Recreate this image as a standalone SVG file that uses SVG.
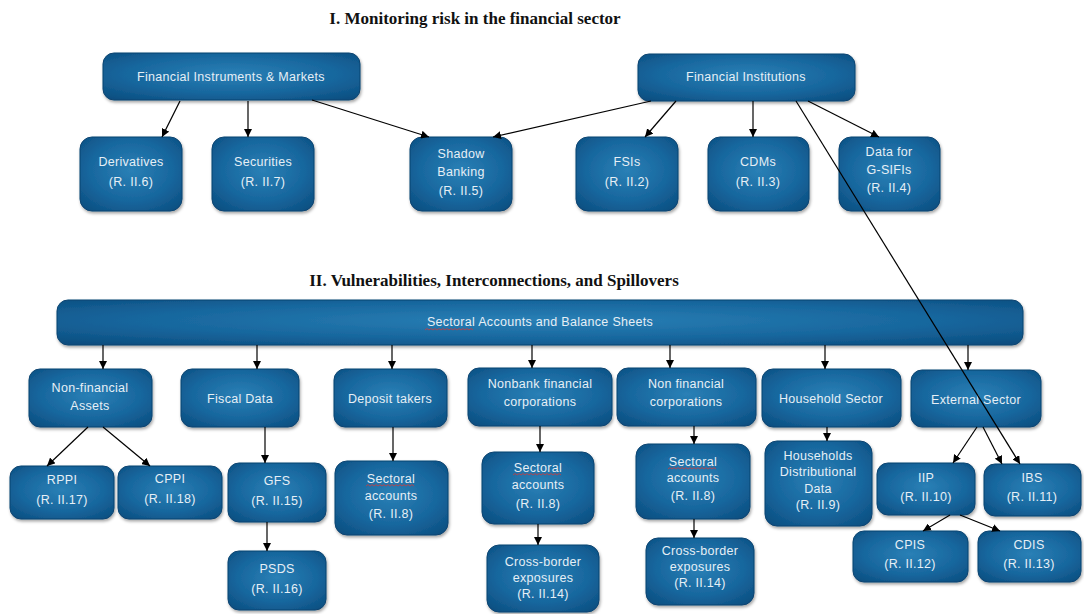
<svg xmlns="http://www.w3.org/2000/svg" width="1084" height="614" viewBox="0 0 1084 614">
  <defs>
    <radialGradient id="boxFill" cx="50%" cy="45%" r="70%">
      <stop offset="0" stop-color="#2a80b6"/>
      <stop offset="0.6" stop-color="#17669d"/>
      <stop offset="1" stop-color="#0c4e80"/>
    </radialGradient>
    <filter id="shadow" x="-10%" y="-10%" width="125%" height="130%">
      <feDropShadow dx="1" dy="2" stdDeviation="1.5" flood-color="#000" flood-opacity="0.35"/>
    </filter>
    <marker id="arrow" markerUnits="userSpaceOnUse" markerWidth="9" markerHeight="8" refX="8" refY="4" orient="auto">
      <path d="M0,0 L8,4 L0,8 z" fill="#000"/>
    </marker>
  </defs>
  <style>
    .box { fill: url(#boxFill); stroke: #0a4470; stroke-width: 1; filter: url(#shadow); }
    .lbl { font-family: "Liberation Sans", Arial, sans-serif; font-size: 12.5px; fill: #e6eff6; text-anchor: middle; letter-spacing: 0.3px; }
    .title { font-family: "Liberation Serif", "Times New Roman", serif; font-size: 17px; font-weight: bold; fill: #111; text-anchor: middle; }
    .conn line { stroke: #000; stroke-width: 1.2; marker-end: url(#arrow); }
    .squiggle { fill: none; stroke: #d23a3a; stroke-width: 0.8; }
  </style>

  <rect width="1084" height="614" fill="#fff"/>

  <!-- section headings -->
  <text class="title" x="475" y="24">I. Monitoring risk in the financial sector</text>
  <text class="title" x="494" y="286">II. Vulnerabilities, Interconnections, and Spillovers</text>

  <!-- section I -->
  <g id="fin-instruments">
    <rect class="box" x="103" y="53" width="257" height="47" rx="11"/>
    <text class="lbl" x="231" y="81">Financial Instruments &amp; Markets</text>
  </g>
  <g id="fin-institutions">
    <rect class="box" x="638" y="54" width="217" height="47" rx="11"/>
    <text class="lbl" x="746" y="81">Financial Institutions</text>
  </g>
  <g id="derivatives">
    <rect class="box" x="80" y="137" width="102" height="74" rx="12"/>
    <text class="lbl" x="131" y="166">Derivatives</text>
    <text class="lbl" x="131" y="186">(R. II.6)</text>
  </g>
  <g id="securities">
    <rect class="box" x="212" y="137" width="102" height="74" rx="12"/>
    <text class="lbl" x="263" y="166">Securities</text>
    <text class="lbl" x="263" y="186">(R. II.7)</text>
  </g>
  <g id="shadow-banking">
    <rect class="box" x="410" y="137" width="102" height="74" rx="12"/>
    <text class="lbl" x="461" y="158">Shadow</text>
    <text class="lbl" x="461" y="176">Banking</text>
    <text class="lbl" x="461" y="195">(R. II.5)</text>
  </g>
  <g id="fsis">
    <rect class="box" x="576" y="137" width="102" height="74" rx="12"/>
    <text class="lbl" x="627" y="166">FSIs</text>
    <text class="lbl" x="627" y="186">(R. II.2)</text>
  </g>
  <g id="cdms">
    <rect class="box" x="708" y="137" width="101" height="74" rx="12"/>
    <text class="lbl" x="758" y="166">CDMs</text>
    <text class="lbl" x="758" y="186">(R. II.3)</text>
  </g>
  <g id="gsifis">
    <rect class="box" x="839" y="137" width="101" height="74" rx="12"/>
    <text class="lbl" x="889" y="156">Data for</text>
    <text class="lbl" x="889" y="174">G-SIFIs</text>
    <text class="lbl" x="889" y="192">(R. II.4)</text>
  </g>

  <!-- section II -->
  <g id="sectoral-bar">
    <rect class="box" x="57" y="300" width="966" height="45" rx="11"/>
    <text class="lbl" x="540" y="326">Sectoral Accounts and Balance Sheets</text>
    <path class="squiggle" d="M425,330 l2,-1.5 l2,1.5 l2,-1.5 l2,1.5 l2,-1.5 l2,1.5 l2,-1.5 l2,1.5 l2,-1.5 l2,1.5 l2,-1.5 l2,1.5 l2,-1.5 l2,1.5 l2,-1.5 l2,1.5 l2,-1.5 l2,1.5 l2,-1.5 l2,1.5 l2,-1.5 l2,1.5 l2,-1.5 l2,1.5"/>
  </g>
  <g id="nonfin-assets">
    <rect class="box" x="29" y="369" width="123" height="58" rx="11"/>
    <text class="lbl" x="90" y="392">Non-financial</text>
    <text class="lbl" x="90" y="410">Assets</text>
  </g>
  <g id="fiscal-data">
    <rect class="box" x="181" y="369" width="118" height="58" rx="11"/>
    <text class="lbl" x="240" y="403">Fiscal Data</text>
  </g>
  <g id="deposit-takers">
    <rect class="box" x="334" y="369" width="113" height="58" rx="11"/>
    <text class="lbl" x="390" y="403">Deposit takers</text>
  </g>
  <g id="nonbank-fin">
    <rect class="box" x="468" y="368" width="144" height="58" rx="11"/>
    <text class="lbl" x="540" y="388">Nonbank financial</text>
    <text class="lbl" x="540" y="406">corporations</text>
  </g>
  <g id="nonfin-corp">
    <rect class="box" x="617" y="368" width="139" height="58" rx="11"/>
    <text class="lbl" x="686" y="388">Non financial</text>
    <text class="lbl" x="686" y="406">corporations</text>
  </g>
  <g id="household">
    <rect class="box" x="762" y="369" width="139" height="58" rx="11"/>
    <text class="lbl" x="831" y="403">Household Sector</text>
  </g>
  <g id="external">
    <rect class="box" x="911" y="370" width="130" height="57" rx="11"/>
    <text class="lbl" x="976" y="404">External Sector</text>
  </g>

  <g id="rppi">
    <rect class="box" x="10" y="466" width="104" height="53" rx="11"/>
    <text class="lbl" x="62" y="484">RPPI</text>
    <text class="lbl" x="62" y="504">(R. II.17)</text>
  </g>
  <g id="cppi">
    <rect class="box" x="118" y="466" width="104" height="53" rx="11"/>
    <text class="lbl" x="170" y="483">CPPI</text>
    <text class="lbl" x="170" y="503">(R. II.18)</text>
  </g>
  <g id="gfs">
    <rect class="box" x="228" y="463" width="98" height="59" rx="11"/>
    <text class="lbl" x="277" y="485">GFS</text>
    <text class="lbl" x="277" y="505">(R. II.15)</text>
  </g>
  <g id="psds">
    <rect class="box" x="228" y="551" width="98" height="59" rx="11"/>
    <text class="lbl" x="277" y="573">PSDS</text>
    <text class="lbl" x="277" y="593">(R. II.16)</text>
  </g>
  <g id="deposit-sectoral">
    <rect class="box" x="335" y="461" width="113" height="74" rx="12"/>
    <text class="lbl" x="391" y="483">Sectoral</text>
    <path class="squiggle" d="M366,486 l2,-1.5 l2,1.5 l2,-1.5 l2,1.5 l2,-1.5 l2,1.5 l2,-1.5 l2,1.5 l2,-1.5 l2,1.5 l2,-1.5 l2,1.5 l2,-1.5 l2,1.5 l2,-1.5 l2,1.5 l2,-1.5 l2,1.5 l2,-1.5 l2,1.5 l2,-1.5 l2,1.5 l2,-1.5 l2,1.5"/>
    <text class="lbl" x="391" y="500">accounts</text>
    <text class="lbl" x="391" y="518">(R. II.8)</text>
  </g>
  <g id="nonbank-sectoral">
    <rect class="box" x="482" y="452" width="112" height="72" rx="12"/>
    <text class="lbl" x="538" y="472">Sectoral</text>
    <path class="squiggle" d="M513,475 l2,-1.5 l2,1.5 l2,-1.5 l2,1.5 l2,-1.5 l2,1.5 l2,-1.5 l2,1.5 l2,-1.5 l2,1.5 l2,-1.5 l2,1.5 l2,-1.5 l2,1.5 l2,-1.5 l2,1.5 l2,-1.5 l2,1.5 l2,-1.5 l2,1.5 l2,-1.5 l2,1.5 l2,-1.5 l2,1.5"/>
    <text class="lbl" x="538" y="489">accounts</text>
    <text class="lbl" x="538" y="508">(R. II.8)</text>
  </g>
  <g id="nonbank-crossborder">
    <rect class="box" x="487" y="545" width="112" height="67" rx="12"/>
    <text class="lbl" x="543" y="566">Cross-border</text>
    <text class="lbl" x="543" y="582">exposures</text>
    <text class="lbl" x="543" y="598">(R. II.14)</text>
  </g>
  <g id="nonfin-sectoral">
    <rect class="box" x="636" y="444" width="114" height="75" rx="12"/>
    <text class="lbl" x="693" y="466">Sectoral</text>
    <path class="squiggle" d="M668,469 l2,-1.5 l2,1.5 l2,-1.5 l2,1.5 l2,-1.5 l2,1.5 l2,-1.5 l2,1.5 l2,-1.5 l2,1.5 l2,-1.5 l2,1.5 l2,-1.5 l2,1.5 l2,-1.5 l2,1.5 l2,-1.5 l2,1.5 l2,-1.5 l2,1.5 l2,-1.5 l2,1.5 l2,-1.5 l2,1.5"/>
    <text class="lbl" x="693" y="482">accounts</text>
    <text class="lbl" x="693" y="500">(R. II.8)</text>
  </g>
  <g id="nonfin-crossborder">
    <rect class="box" x="646" y="538" width="108" height="67" rx="12"/>
    <text class="lbl" x="700" y="555">Cross-border</text>
    <text class="lbl" x="700" y="571">exposures</text>
    <text class="lbl" x="700" y="587">(R. II.14)</text>
  </g>
  <g id="household-dist">
    <rect class="box" x="765" y="441" width="107" height="85" rx="12"/>
    <text class="lbl" x="818" y="460">Households</text>
    <text class="lbl" x="818" y="476">Distributional</text>
    <text class="lbl" x="818" y="493">Data</text>
    <text class="lbl" x="818" y="509">(R. II.9)</text>
  </g>
  <g id="iip">
    <rect class="box" x="877" y="463" width="98" height="52" rx="11"/>
    <text class="lbl" x="926" y="482">IIP</text>
    <text class="lbl" x="926" y="501">(R. II.10)</text>
  </g>
  <g id="ibs">
    <rect class="box" x="984" y="464" width="97" height="52" rx="11"/>
    <text class="lbl" x="1032" y="482">IBS</text>
    <text class="lbl" x="1032" y="501">(R. II.11)</text>
  </g>
  <g id="cpis">
    <rect class="box" x="853" y="531" width="115" height="51" rx="11"/>
    <text class="lbl" x="910" y="549">CPIS</text>
    <text class="lbl" x="910" y="568">(R. II.12)</text>
  </g>
  <g id="cdis">
    <rect class="box" x="978" y="531" width="103" height="51" rx="11"/>
    <text class="lbl" x="1029" y="549">CDIS</text>
    <text class="lbl" x="1029" y="568">(R. II.13)</text>
  </g>

  <!-- connectors -->
  <g id="connectors" class="conn">
    <line x1="180" y1="101" x2="162" y2="137"/>
    <line x1="248" y1="101" x2="248" y2="137"/>
    <line x1="312" y1="100" x2="429" y2="137"/>
    <line x1="651" y1="101" x2="493" y2="137"/>
    <line x1="676" y1="101" x2="645" y2="137"/>
    <line x1="753" y1="101" x2="753" y2="137"/>
    <line x1="808" y1="101" x2="879" y2="137"/>
    <line x1="796" y1="101" x2="1020" y2="464"/>

    <line x1="103" y1="345" x2="103" y2="369"/>
    <line x1="257" y1="345" x2="257" y2="369"/>
    <line x1="392" y1="345" x2="392" y2="369"/>
    <line x1="532" y1="345" x2="532" y2="368"/>
    <line x1="670" y1="345" x2="670" y2="368"/>
    <line x1="825" y1="345" x2="825" y2="369"/>
    <line x1="968" y1="345" x2="968" y2="370"/>

    <line x1="88" y1="427" x2="47" y2="466"/>
    <line x1="103" y1="427" x2="150" y2="466"/>
    <line x1="265" y1="427" x2="265" y2="463"/>
    <line x1="267" y1="522" x2="267" y2="551"/>
    <line x1="393" y1="427" x2="393" y2="461"/>
    <line x1="540" y1="426" x2="540" y2="452"/>
    <line x1="538" y1="524" x2="538" y2="545"/>
    <line x1="694" y1="426" x2="694" y2="444"/>
    <line x1="694" y1="519" x2="694" y2="538"/>
    <line x1="827" y1="427" x2="827" y2="441"/>
    <line x1="977" y1="427" x2="953" y2="463"/>
    <line x1="983" y1="427" x2="1002" y2="464"/>
    <line x1="950" y1="515" x2="923" y2="531"/>
    <line x1="960" y1="515" x2="1000" y2="531"/>
  </g>
</svg>
